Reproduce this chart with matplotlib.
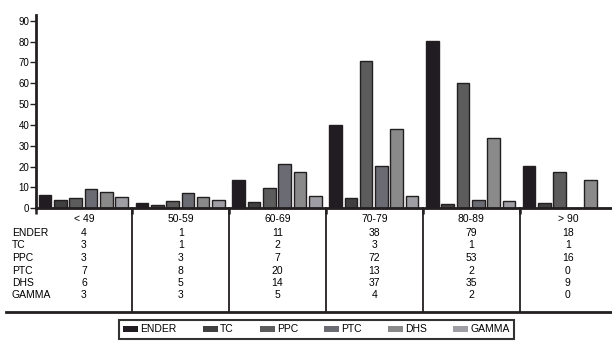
import numpy as np
import matplotlib
matplotlib.use("Agg")
import matplotlib.pyplot as plt
from matplotlib.patches import Patch
from matplotlib import font_manager

plt.rcParams['font.family'] = ['Liberation Sans', 'DejaVu Sans']
names = {f.name for f in font_manager.fontManager.ttflist}
narrow = ['Liberation Sans Narrow', 'Liberation Sans'] if 'Liberation Sans Narrow' in names else ['Liberation Sans']

# Data
groups = ["< 49", "50-59", "60-69", "70-79", "80-89", "> 90"]
series = ["ENDER", "TC", "PPC", "PTC", "DHS", "GAMMA"]

# bar heights
ender_bar = [6.4, 2.5, 13.6, 40.0, 80.2, 20.3]
tc_bar = [4.0, 1.6, 3.0, 4.8, 2.1, 2.5]
ppc_bar = [4.9, 3.5, 9.7, 70.5, 60.1, 17.4]
ptc_bar = [9.2, 7.3, 21.3, 20.3, 4.0, 0]
dhs_bar = [7.8, 5.4, 17.4, 38.0, 33.6, 13.6]
gamma_bar = [5.4, 4.0, 5.7, 5.9, 3.5, 0]

# table counts
ender_n = [4, 1, 11, 38, 79, 18]
tc_n = [3, 1, 2, 3, 1, 1]
ppc_n = [3, 3, 7, 72, 53, 16]
ptc_n = [7, 8, 20, 13, 2, 0]
dhs_n = [6, 5, 14, 37, 35, 9]
gamma_n = [3, 3, 5, 4, 2, 0]

bars = [ender_bar, tc_bar, ppc_bar, ptc_bar, dhs_bar, gamma_bar]
counts = [ender_n, tc_n, ppc_n, ptc_n, dhs_n, gamma_n]
colors = ["#211c22", "#404040", "#5c5c5c", "#6b6b73", "#8a8a8a", "#9e9ea4"]
edge = "#231f20"

W, H = 612, 344
fig = plt.figure(figsize=(W / 100, H / 100), dpi=100)

left_px, right_px = 35.5, 612
y0_px, ytop_px, tbl_bot_px = 208.3, 15, 311.7
grp_px = 96.8

ax = fig.add_axes([left_px / W, 1 - y0_px / H, (right_px - left_px) / W, (y0_px - ytop_px) / H])
xmax = (right_px - left_px) / grp_px
ax.set_xlim(0, xmax)
ax.set_ylim(0, (y0_px - ytop_px) / 2.085)

slot, off, bw = 0.158, 0.1, 0.13
x = np.arange(len(groups))
for j, (vals, c) in enumerate(zip(bars, colors)):
    ax.bar(x + off + j * slot, vals, width=bw, color=c, edgecolor=edge,
           linewidth=1.0, clip_on=False)

for s in ["top", "right"]:
    ax.spines[s].set_visible(False)
for s in ["left", "bottom"]:
    ax.spines[s].set_color(edge)
    ax.spines[s].set_linewidth(2)
ax.set_yticks(range(0, 91, 10))
ax.tick_params(axis="y", length=4, width=1, color=edge, pad=0.5, labelsize=7)
for lab in ax.get_yticklabels():
    lab.set_family(narrow)
ax.set_xticks(range(0, 6))
ax.set_xticklabels([])
ax.tick_params(axis="x", length=4, width=1.8, color=edge)

# table below the plot
tax = fig.add_axes([left_px / W, 1 - tbl_bot_px / H, (right_px - left_px) / W, (tbl_bot_px - y0_px) / H])
tax.set_xlim(0, xmax)
tax.set_ylim(tbl_bot_px, y0_px)
tax.axis("off")
for i in range(1, 6):
    tax.plot([i, i], [y0_px, tbl_bot_px], color=edge, lw=1.3, clip_on=False)

fs = 7.5
for i, g in enumerate(groups):
    tax.text(i + 0.5, 219.5, g, ha="center", va="center", fontsize=fs, family=narrow)
row_y = [233, 245.5, 258, 270.5, 283, 295.5]
label_x = (12 - left_px) / grp_px
for r, (name, vals) in enumerate(zip(series, counts)):
    tax.text(label_x, row_y[r], name, ha="left", va="center", fontsize=fs,
             family=narrow, clip_on=False)
    for i, v in enumerate(vals):
        tax.text(i + 0.5, row_y[r], str(v), ha="center", va="center", fontsize=fs,
                 family=narrow)

# bottom rule of the table
fig.add_artist(plt.Line2D([6 / W, 1], [1 - tbl_bot_px / H] * 2, color=edge, lw=2))

# legend
handles = [Patch(facecolor=c, edgecolor="none", label=s) for s, c in zip(series, colors)]
leg = fig.legend(handles=handles, ncol=6, loc="center",
                 bbox_to_anchor=(316.5 / W, 1 - 329.5 / H), fontsize=7.5,
                 frameon=True, fancybox=False, handlelength=1.45, handleheight=0.6,
                 handletextpad=0.2, columnspacing=2.5, borderpad=0.45, borderaxespad=0)
leg.get_frame().set_edgecolor("black")
leg.get_frame().set_linewidth(1.5)

fig.savefig("out.png", dpi=100)
